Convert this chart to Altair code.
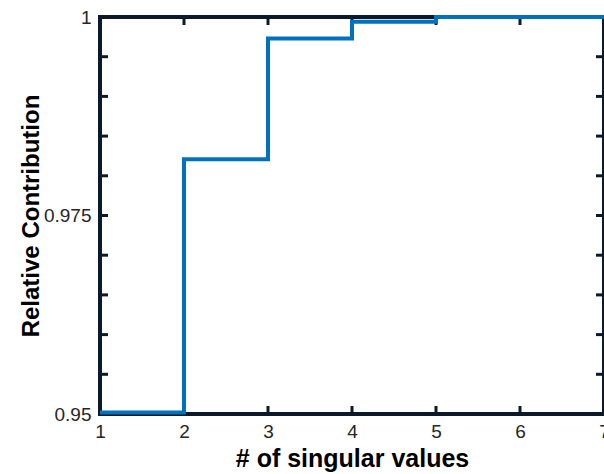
import altair as alt
import pandas as pd

# Data
n_sv = [1, 2, 3, 4, 5, 6, 7]
rel = [0.9502, 0.9821, 0.9973, 0.9994, 1.0, 1.0, 1.0]
x_tick_pos = [2, 3, 4, 5, 6]
y_tick_pos = [0.955, 0.96, 0.965, 0.97, 0.975, 0.98, 0.985, 0.99, 0.995]
x_label_vals = [1, 2, 3, 4, 5, 6, 7]
y_label_vals = [0.95, 0.975, 1.0]

W, H = 504, 397
AX = "#0b1a2b"
BLUE = "#0072BD"
FONT = "Liberation Sans"

df = pd.DataFrame({"n": n_sv, "r": rel})
xs = alt.Scale(domain=[1, 7], nice=False, zero=False)
ys = alt.Scale(domain=[0.95, 1.0], nice=False, zero=False)

x_axis = alt.Axis(
    values=x_label_vals, title="# of singular values",
    labelExpr="format(datum.value, 'd')",
    ticks=False, domain=False, grid=False, labelFont=FONT, labelFontSize=19,
    labelColor="#262626", labelPadding=8, titleFont=FONT, titleFontSize=25,
    titleFontWeight="bold", titleColor="#000000", titleY=52,
    titleBaseline="alphabetic", labelFlush=False)
y_axis = alt.Axis(
    values=y_label_vals, title="Relative Contribution",
    labelExpr="format(datum.value, '.3~f')",
    ticks=False, domain=False, grid=False, labelFont=FONT, labelFontSize=19,
    labelColor="#262626", labelPadding=9, titleFont=FONT, titleFontSize=24,
    titleFontWeight="bold", titleColor="#000000", titleX=-62, titleY=H / 2,
    titleAngle=-90, titleBaseline="alphabetic", titleAlign="center",
    labelFlush=False)

line = alt.Chart(df).mark_line(
    interpolate="step-after", color=BLUE, strokeWidth=4, clip=False
).encode(
    x=alt.X("n:Q", scale=xs, axis=x_axis, title="# of singular values"),
    y=alt.Y("r:Q", scale=ys, axis=y_axis, title="Relative Contribution"),
)

xt = pd.DataFrame({"t": x_tick_pos})
yt = pd.DataFrame({"t": y_tick_pos})
TL = 8
rule_kw = dict(color=AX, strokeWidth=3)

bottom_ticks = alt.Chart(xt).mark_rule(**rule_kw).encode(
    x=alt.X("t:Q", scale=xs, axis=x_axis, title="# of singular values"),
    y=alt.value(H), y2=alt.value(H - TL))
top_ticks = alt.Chart(xt).mark_rule(**rule_kw).encode(
    x=alt.X("t:Q", scale=xs, axis=x_axis, title="# of singular values"),
    y=alt.value(0), y2=alt.value(TL))
left_ticks = alt.Chart(yt).mark_rule(**rule_kw).encode(
    y=alt.Y("t:Q", scale=ys, axis=y_axis, title="Relative Contribution"),
    x=alt.value(0), x2=alt.value(TL))
right_ticks = alt.Chart(yt).mark_rule(**rule_kw).encode(
    y=alt.Y("t:Q", scale=ys, axis=y_axis, title="Relative Contribution"),
    x=alt.value(W), x2=alt.value(W - TL))

chart = alt.layer(bottom_ticks, top_ticks, left_ticks, right_ticks, line).properties(
    width=W, height=H,
    autosize=alt.AutoSizeParams(type="none"),
    padding={"left": 100, "top": 17, "right": 0, "bottom": 60},
    background="white",
).configure_view(stroke=AX, strokeWidth=4)

chart.save("out.html", embed_options={"renderer": "svg", "actions": False})
